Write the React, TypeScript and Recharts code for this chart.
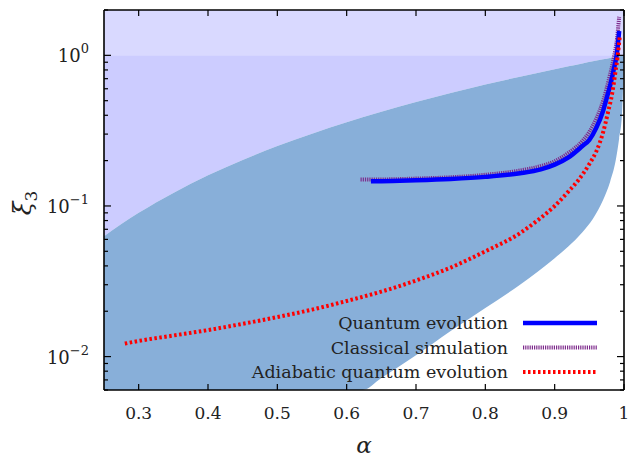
import { ComposedChart, Area, Line, XAxis, YAxis, Label } from "recharts";

// shaded band (upper / lower edge of the blue region)
const bandAlpha = [0.25, 0.3, 0.35, 0.4, 0.45, 0.5, 0.55, 0.6, 0.623, 0.65, 0.7, 0.75, 0.8, 0.85, 0.9, 0.92, 0.94, 0.955, 0.97, 0.98, 0.988, 0.993, 0.997, 1.0];
const bandUpper = [0.063, 0.09, 0.122, 0.16, 0.202, 0.25, 0.302, 0.36, 0.388, 0.422, 0.49, 0.562, 0.64, 0.722, 0.81, 0.846, 0.884, 0.912, 0.941, 0.96, 0.976, 0.986, 0.994, 1.0];
const bandLower = [0.006, 0.006, 0.006, 0.006, 0.006, 0.006, 0.006, 0.006, 0.006, 0.0072, 0.0102, 0.0148, 0.021, 0.03, 0.045, 0.054, 0.067, 0.082, 0.11, 0.145, 0.2, 0.28, 0.4, 1.0];

const quantumAlpha = [0.635, 0.65, 0.7, 0.75, 0.8, 0.85, 0.88, 0.9, 0.92, 0.94, 0.95, 0.96, 0.97, 0.975, 0.98, 0.985, 0.99, 0.993];
const quantumXi = [0.146, 0.146, 0.148, 0.151, 0.156, 0.165, 0.175, 0.188, 0.21, 0.25, 0.275, 0.33, 0.43, 0.52, 0.63, 0.8, 1.05, 1.45];

const classicalAlpha = [0.62, 0.65, 0.7, 0.75, 0.8, 0.85, 0.88, 0.9, 0.92, 0.94, 0.95, 0.96, 0.97, 0.98, 0.985, 0.99, 0.993];
const classicalXi = [0.15, 0.15, 0.152, 0.155, 0.161, 0.172, 0.184, 0.198, 0.225, 0.27, 0.31, 0.38, 0.5, 0.75, 0.95, 1.3, 1.8];

const adiabaticAlpha = [0.28, 0.3, 0.35, 0.4, 0.45, 0.5, 0.55, 0.6, 0.65, 0.7, 0.75, 0.8, 0.85, 0.875, 0.9, 0.92, 0.935, 0.95, 0.96, 0.97, 0.977, 0.983, 0.987, 0.991, 0.994];
const adiabaticXi = [0.0122, 0.0127, 0.0138, 0.015, 0.0165, 0.0183, 0.0205, 0.0234, 0.027, 0.032, 0.039, 0.05, 0.066, 0.08, 0.1, 0.125, 0.15, 0.19, 0.23, 0.31, 0.42, 0.56, 0.74, 1.0, 1.35];

const xTicks = [0.3, 0.4, 0.5, 0.6, 0.7, 0.8, 0.9, 1];
const xTickLabels = ["0.3", "0.4", "0.5", "0.6", "0.7", "0.8", "0.9", "1"];
const yTicks = [0.006, 0.007, 0.008, 0.009, 0.01, 0.02, 0.03, 0.04, 0.05, 0.06, 0.07, 0.08, 0.09, 0.1, 0.2, 0.3, 0.4, 0.5, 0.6, 0.7, 0.8, 0.9, 1, 2];
const yMajor = [0.01, 0.1, 1];
const yMajorExp = ["\u22122", "\u22121", "0"];

const legendNames = ["Quantum evolution", "Classical simulation", "Adiabatic quantum evolution"];

const serif = { fontFamily: "'DejaVu Serif', serif" };

const bandData = bandAlpha.map((a, i) => ({
  a,
  top: [1, 2],
  lav: [bandUpper[i], 1],
  band: [bandLower[i], bandUpper[i]],
}));
const toPts = (xs: number[], ys: number[]) => xs.map((a, i) => ({ a, v: ys[i] }));
const quantumData = toPts(quantumAlpha, quantumXi);
const classicalData = toPts(classicalAlpha, classicalXi);
const adiabaticData = toPts(adiabaticAlpha, adiabaticXi);

const series = [
  { stroke: "#0000ff", width: 4.5, dash: undefined as string | undefined },
  { stroke: "#7e2a8c", width: 4, dash: "1.2 1" },
  { stroke: "#ff0000", width: 4, dash: "2.5 2.5" },
];

const BottomTick = (p: any) => {
  const i = xTicks.indexOf(p.payload.value);
  return (
    <g>
      <line x1={p.x} y1={p.y} x2={p.x} y2={p.y - 6} stroke="#000" strokeWidth={1.2} />
      <text x={p.x} y={p.y + 29} textAnchor="middle" style={serif} fontSize={17} fill="#222">
        {xTickLabels[i]}
      </text>
    </g>
  );
};

const TopTick = (p: any) => (
  <line x1={p.x} y1={p.y} x2={p.x} y2={p.y + 6} stroke="#000" strokeWidth={1.2} />
);

const LeftTick = (p: any) => {
  const k = yMajor.indexOf(p.payload.value);
  const len = k >= 0 ? 7 : 4;
  return (
    <g>
      <line x1={p.x} y1={p.y} x2={p.x + len} y2={p.y} stroke="#000" strokeWidth={1.2} />
      {k >= 0 && (
        <text x={p.x - 15} y={p.y + 7} textAnchor="end" style={serif} fontSize={18} fill="#222">
          10<tspan dy={-9} fontSize={13}>{yMajorExp[k]}</tspan>
        </text>
      )}
    </g>
  );
};

const RightTick = (p: any) => {
  const len = yMajor.indexOf(p.payload.value) >= 0 ? 7 : 4;
  return <line x1={p.x} y1={p.y} x2={p.x - len} y2={p.y} stroke="#000" strokeWidth={1.2} />;
};

const YLabel = (props: any) => {
  const vb = props.viewBox || { x: 0 };
  const cx = vb.x + 31;
  const cy = 203;
  return (
    <text transform={`rotate(-90 ${cx} ${cy})`} x={cx} y={cy} textAnchor="middle" style={serif} fontSize={25} fill="#222">
      <tspan fontStyle="italic">ξ</tspan>
      <tspan fontSize={17} dy={6}>3</tspan>
    </text>
  );
};

const axisLine = { stroke: "#000", strokeWidth: 1.6 };

export default function App() {
  return (
    <div style={{ position: "absolute", left: 0, top: 0, width: 636, height: 458, background: "#fff" }}>
      <ComposedChart width={636} height={458} margin={{ top: 0, right: 0, left: 0, bottom: 0 }}>
        <XAxis xAxisId="b" dataKey="a" type="number" domain={[0.25, 1]} allowDataOverflow ticks={xTicks} interval={0}
          height={68} tickSize={0} tickMargin={0} tickLine={false} tick={BottomTick} axisLine={axisLine}>
          <Label value="α" position="insideBottom" offset={5} style={serif} fontSize={23} fontStyle="italic" fill="#222" />
        </XAxis>
        <XAxis xAxisId="t" orientation="top" dataKey="a" type="number" domain={[0.25, 1]} allowDataOverflow ticks={xTicks}
          interval={0} height={10} tickSize={0} tickMargin={0} tickLine={false} tick={TopTick} axisLine={axisLine} />
        <YAxis yAxisId="l" type="number" scale="log" domain={[0.006, 2]} allowDataOverflow ticks={yTicks} interval={0}
          width={104} tickSize={0} tickMargin={0} tickLine={false} tick={LeftTick} axisLine={axisLine}>
          <Label content={YLabel} />
        </YAxis>
        <YAxis yAxisId="r" orientation="right" type="number" scale="log" domain={[0.006, 2]} allowDataOverflow ticks={yTicks}
          interval={0} width={12} tickSize={0} tickMargin={0} tickLine={false} tick={RightTick} axisLine={axisLine} />

        <Area xAxisId="b" yAxisId="l" data={bandData} dataKey="top" type="linear" fill="#d9d9ff" fillOpacity={1} stroke="none" isAnimationActive={false} legendType="none" />
        <Area xAxisId="b" yAxisId="l" data={bandData} dataKey="lav" type="monotone" fill="#ccccff" fillOpacity={1} stroke="none" isAnimationActive={false} legendType="none" />
        <Area xAxisId="b" yAxisId="l" data={bandData} dataKey="band" type="monotone" fill="#88afd9" fillOpacity={1} stroke="none" isAnimationActive={false} legendType="none" />

        <Line xAxisId="b" yAxisId="l" data={classicalData} dataKey="v" type="monotone" stroke={series[1].stroke} strokeWidth={series[1].width} strokeDasharray={series[1].dash} dot={false} isAnimationActive={false} name={legendNames[1]} />
        <Line xAxisId="b" yAxisId="l" data={quantumData} dataKey="v" type="monotone" stroke={series[0].stroke} strokeWidth={series[0].width} dot={false} isAnimationActive={false} name={legendNames[0]} />
        <Line xAxisId="b" yAxisId="l" data={adiabaticData} dataKey="v" type="monotone" stroke={series[2].stroke} strokeWidth={series[2].width} strokeDasharray={series[2].dash} dot={false} isAnimationActive={false} name={legendNames[2]} />
      </ComposedChart>
      <svg width={636} height={458} style={{ position: "absolute", left: 0, top: 0, pointerEvents: "none" }}>
        {legendNames.map((name, i) => {
          const cy = 323 + i * 24.5;
          return (
            <g key={name}>
              <text x={508} y={cy + 6} textAnchor="end" style={serif} fontSize={17.5} fill="#222">
                {name}
              </text>
              <line x1={523} y1={cy} x2={597} y2={cy} stroke={series[i].stroke} strokeWidth={series[i].width} strokeDasharray={series[i].dash} />
            </g>
          );
        })}
      </svg>
    </div>
  );
}
